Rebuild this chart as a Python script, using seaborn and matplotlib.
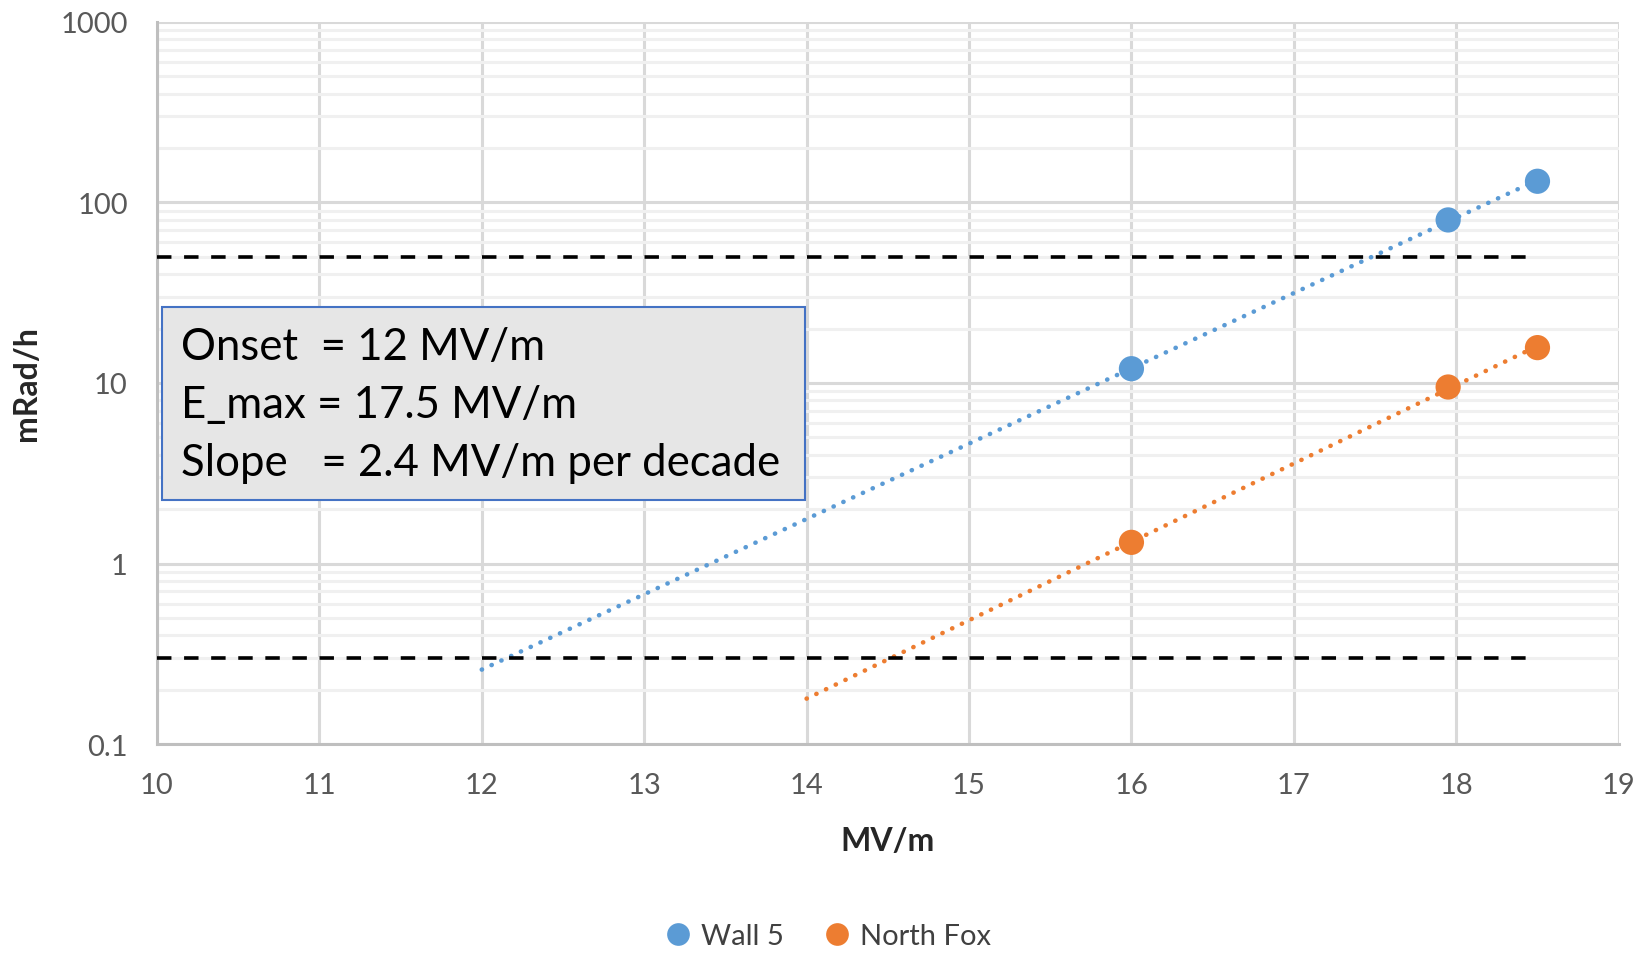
import numpy as np
import pandas as pd
import matplotlib
matplotlib.use("Agg")
import matplotlib.pyplot as plt
from matplotlib.ticker import LogLocator, FixedLocator, FixedFormatter, NullFormatter
import seaborn as sns

# ---- data ----
series_names = ["Wall 5", "North Fox"]
wall5_x = [16, 17.95, 18.5]
wall5_y = [12.0, 80.0, 131.0]
fox_x = [16, 17.95, 18.5]
fox_y = [1.31, 9.5, 15.7]
trend_start = [12, 14]          # start of exponential trendlines (MV/m)
trend_end = 18.5
limit_levels = [50, 0.3]        # dashed reference levels (mRad/h)
limit_xrange = [10, 18.5]
x_ticks = [10, 11, 12, 13, 14, 15, 16, 17, 18, 19]
y_ticks = [0.1, 1, 10, 100, 1000]
y_ticklabels = ["0.1", "1", "10", "100", "1000"]
box_lines = ["Onset  = 12 MV/m", "E_max = 17.5 MV/m", "Slope   = 2.4 MV/m per decade"]

colors = ["#5B9BD5", "#ED7D31"]

sns.set_theme(style="white")
plt.rcParams["font.family"] = ["Lato", "DejaVu Sans"]

df = pd.DataFrame({
    "x": wall5_x + fox_x,
    "y": wall5_y + fox_y,
    "series": [series_names[0]] * len(wall5_x) + [series_names[1]] * len(fox_x),
})

fig = plt.figure(figsize=(16.4, 9.54), dpi=100)
ax = fig.add_axes([0.0957, 0.219, 0.987 - 0.0957, 0.976 - 0.219])
ax.set_yscale("log")
ax.set_xlim(10, 19)
ax.set_ylim(0.1, 1000)

# grid
ax.yaxis.set_minor_locator(LogLocator(base=10, subs=np.arange(2, 10)))
ax.yaxis.set_minor_formatter(NullFormatter())
ax.grid(True, which="major", axis="both", color="#D9D9D9", lw=2.2)
ax.grid(True, which="minor", axis="y", color="#F0F0F0", lw=2.2)
ax.set_axisbelow(True)

# trendlines (exponential fit through each series)
for (xs, ys, x0, c) in [(wall5_x, wall5_y, trend_start[0], colors[0]),
                         (fox_x, fox_y, trend_start[1], colors[1])]:
    p = np.polyfit(xs, np.log10(ys), 1)
    tx = np.linspace(x0, trend_end, 100)
    ty = 10 ** np.polyval(p, tx)
    sns.lineplot(x=tx, y=ty, ax=ax, color=c, lw=3.3, linestyle=(0, (0.05, 2.3)),
                 dash_capstyle="round", legend=False, zorder=3)

# dashed limits
for lv in limit_levels:
    sns.lineplot(x=limit_xrange, y=[lv, lv], ax=ax, color="black", lw=2.6,
                 linestyle=(0, (4, 3.5)), legend=False, zorder=3)

# points
sns.scatterplot(data=df, x="x", y="y", hue="series", palette=colors, s=330,
                edgecolor="none", ax=ax, zorder=4, legend=True)

# axes styling
for s in ["top", "right"]:
    ax.spines[s].set_visible(False)
for s in ["left", "bottom"]:
    ax.spines[s].set_color("#BFBFBF")
    ax.spines[s].set_linewidth(2.2)

ax.xaxis.set_major_locator(FixedLocator(x_ticks))
ax.yaxis.set_major_locator(FixedLocator(y_ticks))
ax.yaxis.set_major_formatter(FixedFormatter(y_ticklabels))
ax.tick_params(axis="x", which="major", length=0, pad=20, labelsize=21, labelcolor="#595959")
ax.tick_params(axis="y", which="major", length=9, width=2, direction="in", color="#BFBFBF",
               pad=21, labelsize=21, labelcolor="#595959")
ax.tick_params(axis="y", which="minor", length=9, width=2, direction="in", color="#D0D0D0")

ax.set_xlabel("MV/m", fontsize=23, fontweight="bold", color="#262626", labelpad=20)
ax.set_ylabel("mRad/h", fontsize=23, fontweight="bold", color="#262626", labelpad=14)

# text box
fig.patches.append(plt.Rectangle((162 / 1640, 1 - 501 / 954), (805 - 162) / 1640, (501 - 308) / 954,
                                 transform=fig.transFigure, facecolor="#E6E6E6",
                                 edgecolor="#4472C4", lw=1.5, zorder=5))
for i, t in enumerate(box_lines):
    fig.text(181 / 1640, 1 - (348 + i * 57.5) / 954, t, fontsize=31.5, color="black",
             va="center", ha="left", zorder=6)

# legend
h, l = ax.get_legend_handles_labels()
ax.legend_.remove()
leg = fig.legend(h, l, loc="center", bbox_to_anchor=(0.5, 1 - 937 / 954), ncol=2, frameon=False,
                 fontsize=21, handletextpad=-0.2, columnspacing=0.8, markerscale=0.9)
for t in leg.get_texts():
    t.set_color("#404040")

fig.savefig("out.png", dpi=100)
